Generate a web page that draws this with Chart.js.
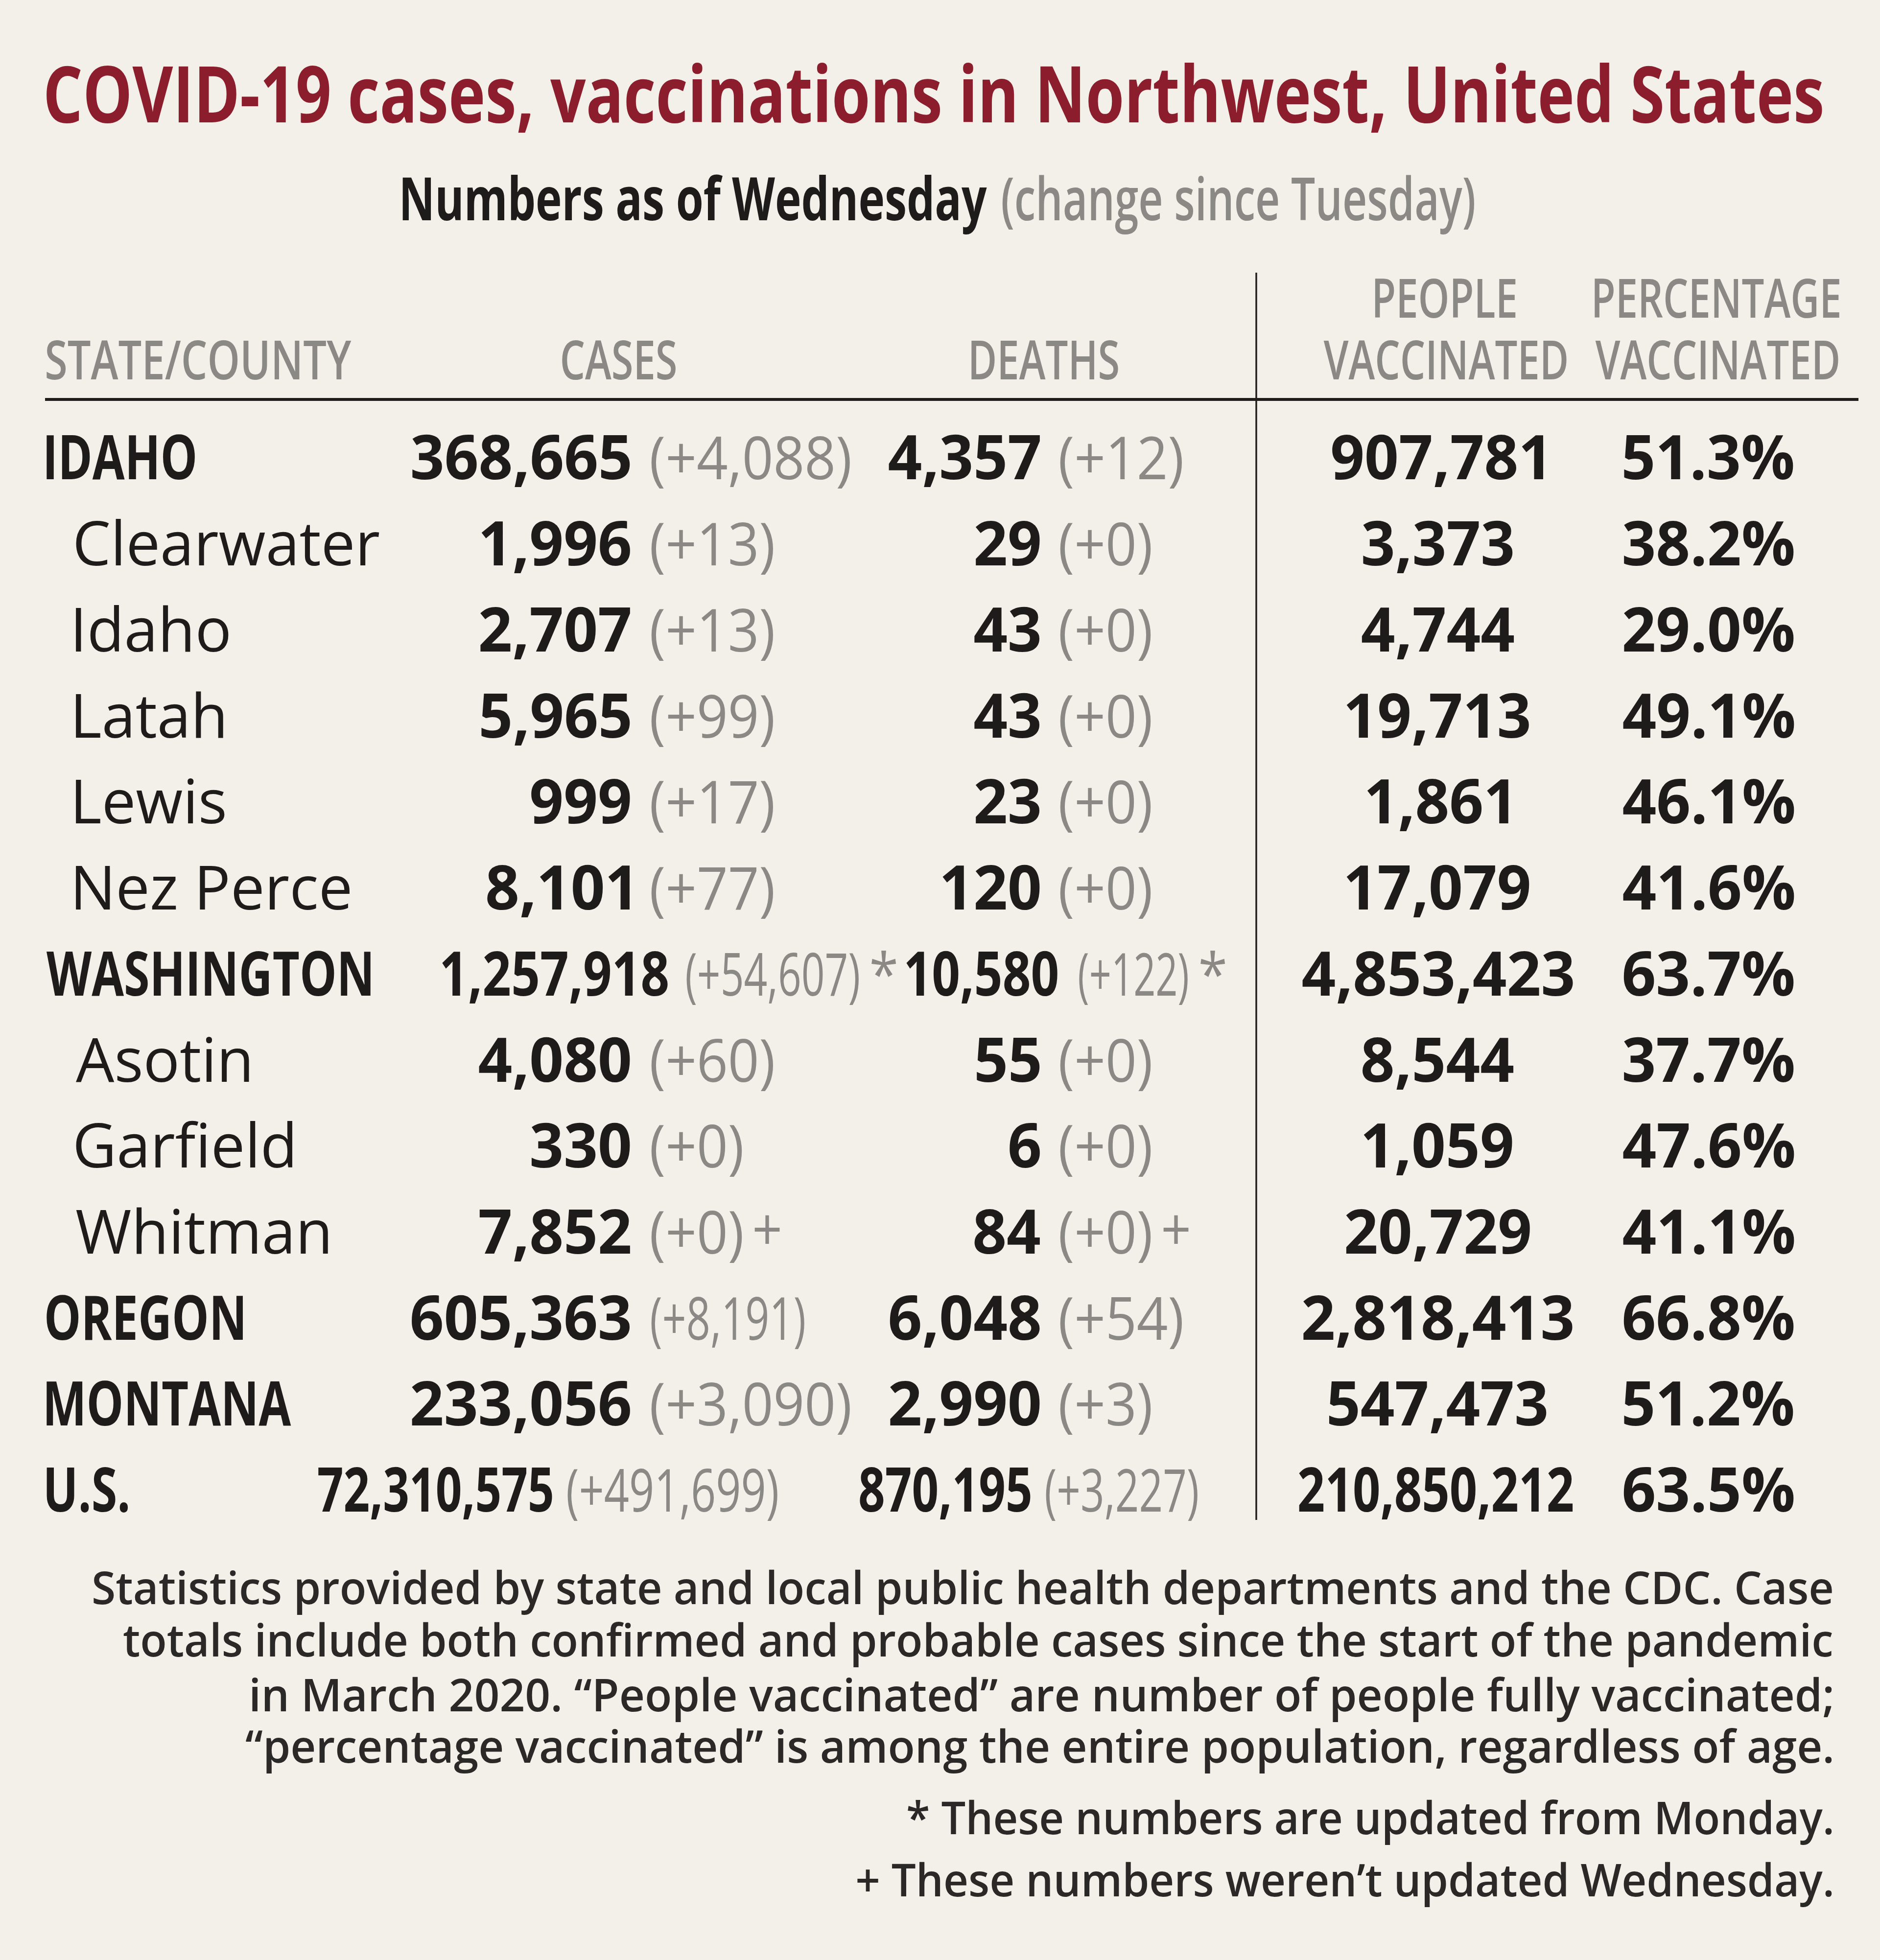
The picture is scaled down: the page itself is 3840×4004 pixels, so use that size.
<!DOCTYPE html>
<html><head><meta charset="utf-8">
<script src="https://cdn.jsdelivr.net/npm/chart.js@4.4.1/dist/chart.umd.min.js"></script>
<style>html,body{margin:0;padding:0;background:#f3f0e9;}canvas{display:block;}</style>
</head><body>
<canvas id="c" width="3840" height="4004" style="width:3840px;height:4004px"></canvas>
<script>
// ---------- DATA ----------
const titleText = 'COVID-19 cases, vaccinations in Northwest, United States';
const subtitleMain = 'Numbers as of Wednesday';
const subtitleNote = '(change since Tuesday)';
const headerLabels = [['STATE/COUNTY'], ['CASES'], ['DEATHS'], ['PEOPLE', 'VACCINATED'], ['PERCENTAGE', 'VACCINATED']];
const rowNames = ['IDAHO', 'Clearwater', 'Idaho', 'Latah', 'Lewis', 'Nez Perce', 'WASHINGTON', 'Asotin', 'Garfield', 'Whitman', 'OREGON', 'MONTANA', 'U.S.'];
const rowLevel = ['state', 'county', 'county', 'county', 'county', 'county', 'state', 'county', 'county', 'county', 'state', 'state', 'state'];
const cases = [368665, 1996, 2707, 5965, 999, 8101, 1257918, 4080, 330, 7852, 605363, 233056, 72310575];
const casesChange = [4088, 13, 13, 99, 17, 77, 54607, 60, 0, 0, 8191, 3090, 491699];
const deaths = [4357, 29, 43, 43, 23, 120, 10580, 55, 6, 84, 6048, 2990, 870195];
const deathsChange = [12, 0, 0, 0, 0, 0, 122, 0, 0, 0, 54, 3, 3227];
const peopleVaccinated = [907781, 3373, 4744, 19713, 1861, 17079, 4853423, 8544, 1059, 20729, 2818413, 547473, 210850212];
const pctVaccinated = [51.3, 38.2, 29.0, 49.1, 46.1, 41.6, 63.7, 37.7, 47.6, 41.1, 66.8, 51.2, 63.5];
const rowNotes = ['', '', '', '', '', '', '*', '', '', '+', '', '', ''];
const footnoteLines = [
  'Statistics provided by state and local public health departments and the CDC. Case',
  'totals include both confirmed and probable cases since the start of the pandemic',
  'in March 2020. \u201cPeople vaccinated\u201d are number of people fully vaccinated;',
  '\u201cpercentage vaccinated\u201d is among the entire population, regardless of age.',
  '* These numbers are updated from Monday.',
  '+ These numbers weren\u2019t updated Wednesday.'
];

// ---------- STYLE / LAYOUT ----------
const W = 3840, H = 4004;
const BG = '#f3f0e9', INK = '#1d1c1b', GRAY = '#8a8986', RED = '#8b1d2d', NOTE = '#2a2927';
const FF = '"Open Sans", "Noto Sans", sans-serif';
const L = {
  padTop: 846.6, padBottom: 873,
  labelX: { state: 95, county: 155 },
  casesRight: 1287, casesChgLeft: 1330, deathsRight: 2124, deathsChgLeft: 2165,
  vaccCenter: 2937, pctCenter: 3490,
  numFont: 'bold 126px ' + FF, numSq: 0.97, chgFont: '120px ' + FF, chgSq: 0.93,
  stateFont: 'bold 126px ' + FF, stateInkIDAHO: 303, countyFont: '124px ' + FF,
  baseOff: 45, markerGap: 26,
  title: { box: [95, 3722], y: 250, font: 'bold 160px ' + FF },
  sub: { main: [822, 2016], note: [2047, 3011], y: 450, font: 'bold 122px ' + FF, noteFont: '600 122px ' + FF },
  head: { font: '600 110px ' + FF, fitFirst: [95, 718], centers: [null, 1264, 2134, 2952, 3507], y1: 649, y2: 775, sqAdj: 0.96 },
  rule: { y: 816, x0: 92, x1: 3796, w: 6 },
  vline: { x: 2566, y0: 557, y1: 3105, w: 3.5 },
  foot: { right: 3742, lefts: [191, 252, 514, 502, 1854, 1751], ys: [3277, 3384, 3496, 3601, 3747, 3874], font: '600 92px ' + FF }
};
const cellBoxes = {
  'WASHINGTON': { cases: [903, 1364], casesChg: [1402, 1754], deaths: [1851, 2160], deathsChg: [2204, 2426] },
  'OREGON': { casesChg: [1330, 1643] },
  'U.S.': { cases: [650, 1128], casesChg: [1159, 1588], deaths: [1756, 2105], deathsChg: [2136, 2446], vacc: [2653, 3212] }
};

const fmt = v => v.toLocaleString('en-US');
const fmtChg = v => '(+' + fmt(v) + ')';
const fmtPct = v => v.toFixed(1) + '%';

// draw text with horizontal squeeze; aligns by ink bounds
function draw(ctx, s, o) {
  ctx.save();
  ctx.font = o.font;
  ctx.textAlign = 'left';
  ctx.textBaseline = 'alphabetic';
  const m = ctx.measureText(s);
  const abl = m.actualBoundingBoxLeft, abr = m.actualBoundingBoxRight;
  let sq = o.sq || 1, x0;
  if (o.fit) {
    sq = (o.fit[1] - o.fit[0]) / (abl + abr);
    x0 = o.fit[0] + abl * sq;
  } else if (o.align === 'right') {
    x0 = o.x - abr * sq;
  } else if (o.align === 'center') {
    x0 = o.x - (abr - abl) / 2 * sq;
  } else {
    x0 = o.x + abl * sq;
  }
  ctx.translate(x0, o.y);
  ctx.scale(sq, 1);
  ctx.fillStyle = o.color;
  ctx.fillText(s, 0, 0);
  ctx.restore();
  return { left: x0 - abl * sq, right: x0 + abr * sq, sq: sq };
}

const tablePlugin = {
  id: 'tableText',
  beforeDraw(chart) {
    const ctx = chart.ctx;
    ctx.save();
    ctx.fillStyle = BG;
    ctx.fillRect(0, 0, chart.width, chart.height);
    ctx.restore();
  },
  afterDatasetsDraw(chart) {
    const ctx = chart.ctx;
    const xs = chart.scales.x;
    // title & subtitle
    draw(ctx, titleText, { fit: L.title.box, y: L.title.y, font: L.title.font, color: RED });
    draw(ctx, subtitleMain, { fit: L.sub.main, y: L.sub.y, font: L.sub.font, color: INK });
    draw(ctx, subtitleNote, { fit: L.sub.note, y: L.sub.y, font: L.sub.noteFont, color: GRAY });
    // headers
    const h0 = draw(ctx, headerLabels[0][0], { fit: L.head.fitFirst, y: L.head.y2, font: L.head.font, color: GRAY });
    for (let c = 1; c < headerLabels.length; c++) {
      const lines = headerLabels[c];
      lines.forEach((t, k) => {
        const y = lines.length === 2 && k === 0 ? L.head.y1 : L.head.y2;
        draw(ctx, t, { x: xs.getPixelForValue(L.head.centers[c]), y, align: 'center', sq: h0.sq * L.head.sqAdj, font: L.head.font, color: GRAY });
      });
    }
    // rules
    ctx.save();
    ctx.strokeStyle = '#1f1e1d';
    ctx.lineWidth = L.rule.w;
    ctx.beginPath(); ctx.moveTo(L.rule.x0, L.rule.y); ctx.lineTo(L.rule.x1, L.rule.y); ctx.stroke();
    ctx.lineWidth = L.vline.w;
    ctx.beginPath(); ctx.moveTo(L.vline.x, L.vline.y0); ctx.lineTo(L.vline.x, L.vline.y1); ctx.stroke();
    ctx.restore();

    // state squeeze
    ctx.save(); ctx.font = L.stateFont;
    const mI = ctx.measureText('IDAHO');
    const stateSq = L.stateInkIDAHO / (mI.actualBoundingBoxLeft + mI.actualBoundingBoxRight);
    ctx.restore();

    const metas = chart.data.datasets.map((d, i) => chart.getDatasetMeta(i));
    rowNames.forEach((name, i) => {
      const box = cellBoxes[name] || {};
      // label
      const lp = metas[0].data[i];
      const y = lp.y + L.baseOff;
      if (rowLevel[i] === 'state') {
        draw(ctx, name, { x: lp.x, y, align: 'left', sq: stateSq, font: L.stateFont, color: INK });
      } else {
        draw(ctx, name, { x: lp.x, y, align: 'left', font: L.countyFont, color: INK });
      }
      // cases & deaths pairs
      [[1, cases, casesChange, 'cases', 'casesChg', L.casesChgLeft], [2, deaths, deathsChange, 'deaths', 'deathsChg', L.deathsChgLeft]].forEach(([di, vals, chg, kN, kC, chgLeft]) => {
        const p = metas[di].data[i];
        const numO = { y, font: L.numFont, color: INK };
        if (box[kN]) numO.fit = [xs.getPixelForValue(box[kN][0]), xs.getPixelForValue(box[kN][1])];
        else { numO.x = p.x; numO.align = 'right'; numO.sq = L.numSq; }
        draw(ctx, fmt(vals[i]), numO);
        const chO = { y, font: L.chgFont, color: GRAY };
        if (box[kC]) chO.fit = [xs.getPixelForValue(box[kC][0]), xs.getPixelForValue(box[kC][1])];
        else { chO.x = xs.getPixelForValue(chgLeft); chO.align = 'left'; chO.sq = L.chgSq; }
        const r = draw(ctx, fmtChg(chg[i]), chO);
        if (rowNotes[i]) {
          draw(ctx, rowNotes[i], { x: r.right + L.markerGap, y: y - (rowNotes[i] === '*' ? 0 : 6), align: 'left', sq: 0.9, font: L.chgFont, color: GRAY });
        }
      });
      // people vaccinated
      const pv = metas[3].data[i];
      const vO = { y, font: L.numFont, color: INK };
      if (box.vacc) vO.fit = [xs.getPixelForValue(box.vacc[0]), xs.getPixelForValue(box.vacc[1])];
      else { vO.x = pv.x; vO.align = 'center'; vO.sq = L.numSq; }
      draw(ctx, fmt(peopleVaccinated[i]), vO);
      // percentage
      const pp = metas[4].data[i];
      draw(ctx, fmtPct(pctVaccinated[i]), { x: pp.x, y, align: 'center', sq: L.numSq, font: L.numFont, color: INK });
    });

    // footnotes
    footnoteLines.forEach((t, k) => {
      draw(ctx, t, { fit: [L.foot.lefts[k], L.foot.right], y: L.foot.ys[k], font: L.foot.font, color: NOTE });
    });
  }
};

const mkPoints = (xFn) => rowNames.map((n, i) => ({ x: xFn(i), y: n }));
const chart = new Chart(document.getElementById('c'), {
  type: 'scatter',
  data: {
    datasets: [
      { label: 'State/County', data: mkPoints(i => L.labelX[rowLevel[i]]), pointRadius: 0 },
      { label: 'Cases', data: mkPoints(() => L.casesRight), pointRadius: 0 },
      { label: 'Deaths', data: mkPoints(() => L.deathsRight), pointRadius: 0 },
      { label: 'People vaccinated', data: mkPoints(() => L.vaccCenter), pointRadius: 0 },
      { label: 'Percentage vaccinated', data: mkPoints(() => L.pctCenter), pointRadius: 0 }
    ]
  },
  options: {
    responsive: false,
    animation: false,
    devicePixelRatio: 1,
    layout: { padding: { top: L.padTop, bottom: L.padBottom, left: 0, right: 0 } },
    scales: {
      x: { type: 'linear', min: 0, max: W, display: false },
      y: { type: 'category', labels: rowNames, offset: true, display: false }
    },
    plugins: { legend: { display: false }, tooltip: { enabled: false }, title: { display: false } }
  },
  plugins: [tablePlugin]
});
</script>
</body></html>
